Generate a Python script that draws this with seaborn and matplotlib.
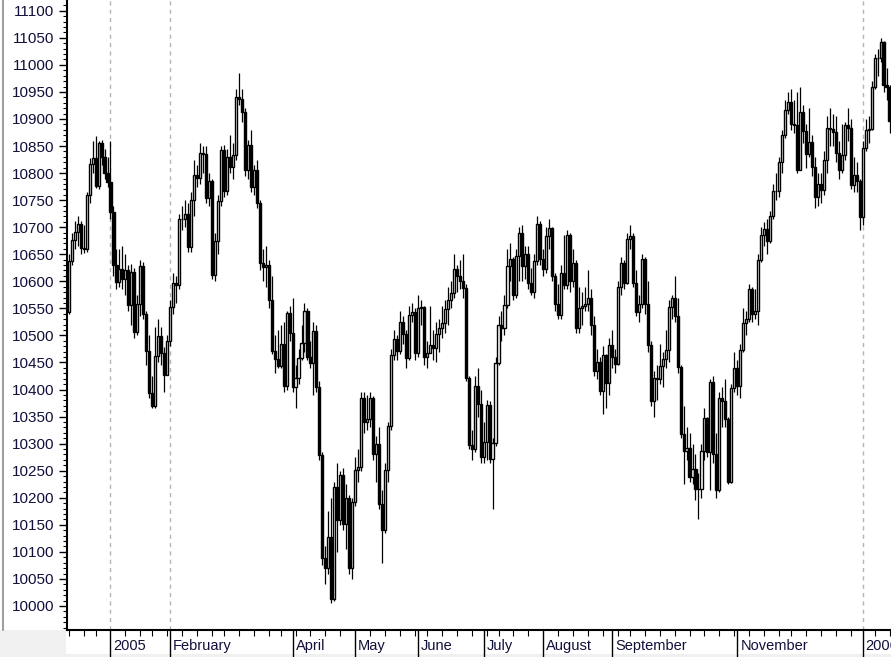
import numpy as np
import pandas as pd
import matplotlib
matplotlib.use("Agg")
import matplotlib.pyplot as plt
import matplotlib.transforms as mtransforms
from matplotlib.patches import Rectangle
from matplotlib.lines import Line2D
import seaborn as sns

# ---------------- data (daily OHLC, Dec 13 2004 .. Jan 17 2006) ----------------
holidays = ["2004-12-24", "2005-01-17", "2005-02-21", "2005-03-25", "2005-05-30",
            "2005-07-04", "2005-09-05", "2005-11-24", "2005-12-26", "2006-01-02",
            "2006-01-16"]

opens = [
    10543, 10638, 10676, 10691, 10706, 10662, 10660, 10759, 10816, 10827, 10776, 10855, 10829, 10800,
    10783, 10729, 10631, 10598, 10623, 10604, 10621, 10556, 10618, 10506, 10558, 10629, 10540, 10471, 10393, 10369, 10462, 10499, 10467, 10427,
    10490, 10552, 10597, 10593, 10716, 10716, 10725, 10664, 10750, 10796, 10791, 10837, 10835, 10754, 10785, 10611, 10674, 10749, 10842,
    10766, 10830, 10812, 10833, 10941, 10937, 10913, 10806, 10852, 10774, 10805, 10745, 10633, 10626, 10630, 10565, 10471, 10456, 10443, 10485, 10406, 10541,
    10504, 10404, 10421, 10458, 10486, 10546, 10461, 10449, 10508, 10404, 10279, 10088, 10071, 10127, 10012, 10219, 10158, 10242, 10151, 10199, 10070,
    10193, 10252, 10257, 10385, 10340, 10345, 10384, 10281, 10300, 10189, 10140, 10252, 10332, 10464, 10493, 10472, 10524, 10503, 10458, 10538, 10543,
    10467, 10550, 10553, 10461, 10467, 10483, 10477, 10503, 10513, 10523, 10548, 10566, 10579, 10623, 10609, 10600, 10588, 10421, 10298, 10291, 10406, 10374,
    10275, 10303, 10372, 10271, 10302, 10449, 10520, 10514, 10557, 10629, 10641, 10575, 10647, 10689, 10628, 10651, 10596, 10580, 10637, 10706,
    10641, 10623, 10684, 10698, 10610, 10558, 10537, 10616, 10594, 10686, 10600, 10634, 10513, 10550, 10555, 10559, 10570, 10520, 10435, 10451, 10397, 10463, 10413,
    10482, 10460, 10447, 10589, 10634, 10596, 10679, 10683, 10597, 10544, 10559, 10642, 10558, 10482, 10378, 10422, 10420, 10444, 10456, 10473, 10553,
    10569, 10535, 10441, 10317, 10287, 10292, 10239, 10253, 10217, 10217, 10287, 10348, 10285, 10414, 10281, 10215, 10385, 10378, 10345, 10230, 10403,
    10440, 10407, 10473, 10523, 10531, 10586, 10540, 10546, 10640, 10686, 10697, 10675, 10720, 10766, 10766, 10820, 10871, 10916, 10932, 10891, 10888,
    10806, 10913, 10878, 10835, 10857, 10811, 10755, 10779, 10768, 10824, 10884, 10882, 10876, 10837, 10806, 10834, 10889, 10883, 10778, 10796, 10785,
    10718, 10847, 10880, 10882, 10959, 11012, 11012, 11043, 10962, 10960,
]

closes = [
    10638, 10676, 10691, 10706, 10662, 10660, 10759, 10816, 10827, 10776, 10855, 10829, 10800, 10783,
    10729, 10631, 10598, 10623, 10604, 10621, 10556, 10618, 10506, 10558, 10629, 10540, 10471, 10393, 10369, 10462, 10499, 10467, 10427, 10490,
    10552, 10597, 10593, 10716, 10716, 10725, 10664, 10750, 10796, 10791, 10837, 10835, 10754, 10785, 10611, 10674, 10749, 10842, 10766,
    10830, 10812, 10833, 10941, 10937, 10913, 10806, 10852, 10774, 10805, 10745, 10633, 10626, 10630, 10565, 10471, 10456, 10443, 10485, 10406, 10541, 10504,
    10404, 10421, 10458, 10486, 10546, 10461, 10449, 10508, 10404, 10279, 10088, 10071, 10127, 10012, 10219, 10158, 10242, 10151, 10199, 10070, 10193,
    10252, 10257, 10385, 10340, 10345, 10384, 10281, 10300, 10189, 10140, 10252, 10332, 10464, 10493, 10472, 10524, 10503, 10458, 10538, 10543, 10467,
    10550, 10553, 10461, 10467, 10483, 10477, 10503, 10513, 10523, 10548, 10566, 10579, 10623, 10609, 10600, 10588, 10421, 10298, 10291, 10406, 10374, 10275,
    10303, 10372, 10271, 10302, 10449, 10520, 10514, 10557, 10629, 10641, 10575, 10647, 10689, 10628, 10651, 10596, 10580, 10637, 10706, 10641,
    10623, 10684, 10698, 10610, 10558, 10537, 10616, 10594, 10686, 10600, 10634, 10513, 10550, 10555, 10559, 10570, 10520, 10435, 10451, 10397, 10463, 10413, 10482,
    10460, 10447, 10589, 10634, 10596, 10679, 10683, 10597, 10544, 10559, 10642, 10558, 10482, 10378, 10422, 10420, 10444, 10456, 10473, 10553, 10569,
    10535, 10441, 10317, 10287, 10292, 10239, 10253, 10217, 10217, 10287, 10348, 10285, 10414, 10281, 10215, 10385, 10378, 10345, 10230, 10403, 10440,
    10407, 10473, 10523, 10531, 10586, 10540, 10546, 10640, 10686, 10697, 10675, 10720, 10766, 10766, 10820, 10871, 10916, 10932, 10891, 10888, 10806,
    10913, 10878, 10835, 10857, 10811, 10755, 10779, 10768, 10824, 10884, 10882, 10876, 10837, 10806, 10834, 10889, 10883, 10778, 10796, 10785, 10718,
    10847, 10880, 10882, 10959, 11012, 11012, 11043, 10962, 10960, 10896,
]

highs = [
    10650, 10690, 10712, 10720, 10712, 10705, 10765, 10828, 10860, 10868, 10860, 10862, 10845, 10830,
    10860, 10740, 10660, 10660, 10665, 10650, 10630, 10632, 10625, 10575, 10640, 10635, 10545, 10500, 10425, 10515, 10530, 10515, 10478, 10500,
    10565, 10615, 10610, 10725, 10740, 10750, 10745, 10765, 10825, 10815, 10855, 10850, 10850, 10800, 10790, 10690, 10760, 10850, 10852,
    10845, 10870, 10855, 10955, 10985, 10955, 10920, 10862, 10880, 10815, 10825, 10750, 10660, 10665, 10640, 10610, 10500, 10510, 10520, 10525, 10545, 10555,
    10570, 10445, 10475, 10520, 10560, 10550, 10490, 10525, 10520, 10415, 10285, 10110, 10175, 10200, 10230, 10265, 10250, 10255, 10225, 10205, 10200,
    10275, 10290, 10395, 10395, 10390, 10395, 10388, 10315, 10330, 10215, 10265, 10340, 10475, 10510, 10500, 10545, 10535, 10510, 10555, 10560, 10550,
    10575, 10565, 10555, 10490, 10555, 10510, 10525, 10530, 10555, 10565, 10590, 10600, 10650, 10630, 10640, 10650, 10595, 10425, 10325, 10425, 10440, 10400,
    10340, 10380, 10378, 10310, 10460, 10535, 10545, 10575, 10660, 10670, 10645, 10660, 10700, 10705, 10665, 10665, 10625, 10650, 10720, 10712,
    10660, 10700, 10715, 10700, 10615, 10595, 10630, 10685, 10695, 10690, 10660, 10640, 10590, 10580, 10590, 10620, 10585, 10535, 10475, 10460, 10480, 10465, 10495,
    10510, 10475, 10600, 10645, 10640, 10690, 10705, 10690, 10620, 10575, 10650, 10645, 10600, 10490, 10435, 10445, 10485, 10470, 10510, 10565, 10575,
    10610, 10570, 10445, 10370, 10330, 10320, 10300, 10280, 10245, 10300, 10365, 10350, 10420, 10425, 10320, 10395, 10405, 10420, 10350, 10410, 10470,
    10455, 10485, 10550, 10545, 10595, 10590, 10585, 10650, 10700, 10710, 10715, 10730, 10780, 10800, 10830, 10880, 10935, 10950, 10955, 10935, 10950,
    10960, 10925, 10890, 10920, 10870, 10830, 10800, 10800, 10840, 10905, 10920, 10910, 10905, 10860, 10890, 10895, 10920, 10900, 10830, 10820, 10790,
    10860, 10900, 10905, 10970, 11020, 11030, 11050, 11045, 10995, 10962,
]

lows = [
    10540, 10630, 10660, 10665, 10650, 10652, 10655, 10745, 10800, 10772, 10770, 10815, 10790, 10775,
    10715, 10610, 10585, 10590, 10585, 10575, 10545, 10520, 10495, 10500, 10535, 10530, 10445, 10385, 10365, 10365, 10450, 10445, 10395, 10427,
    10480, 10540, 10560, 10585, 10695, 10700, 10655, 10655, 10720, 10775, 10780, 10800, 10745, 10740, 10605, 10600, 10650, 10740, 10755,
    10760, 10800, 10790, 10825, 10925, 10895, 10795, 10790, 10765, 10760, 10735, 10620, 10600, 10590, 10550, 10465, 10430, 10440, 10440, 10395, 10400, 10490,
    10395, 10365, 10410, 10455, 10470, 10455, 10440, 10390, 10395, 10270, 10075, 10040, 10060, 10005, 10010, 10100, 10150, 10140, 10105, 10060, 10050,
    10185, 10230, 10250, 10320, 10325, 10330, 10270, 10230, 10180, 10080, 10135, 10230, 10325, 10455, 10455, 10465, 10485, 10440, 10455, 10525, 10455,
    10460, 10520, 10445, 10440, 10470, 10455, 10450, 10470, 10495, 10505, 10520, 10550, 10570, 10580, 10585, 10570, 10415, 10290, 10270, 10285, 10350, 10265,
    10265, 10270, 10265, 10180, 10295, 10445, 10490, 10500, 10550, 10600, 10565, 10570, 10600, 10600, 10605, 10585, 10575, 10570, 10630, 10630,
    10610, 10615, 10660, 10600, 10545, 10530, 10530, 10585, 10585, 10580, 10590, 10505, 10505, 10520, 10545, 10545, 10500, 10425, 10420, 10390, 10355, 10365, 10390,
    10440, 10430, 10445, 10575, 10585, 10595, 10660, 10590, 10535, 10525, 10550, 10540, 10470, 10370, 10350, 10380, 10410, 10405, 10440, 10450, 10530,
    10525, 10430, 10310, 10225, 10270, 10230, 10225, 10195, 10160, 10200, 10270, 10275, 10215, 10265, 10200, 10210, 10330, 10330, 10225, 10228, 10395,
    10390, 10385, 10470, 10500, 10525, 10525, 10530, 10520, 10635, 10665, 10650, 10670, 10715, 10750, 10755, 10800, 10865, 10910, 10880, 10875, 10800,
    10805, 10855, 10810, 10830, 10795, 10735, 10740, 10745, 10760, 10800, 10850, 10850, 10820, 10790, 10800, 10825, 10860, 10770, 10765, 10765, 10695,
    10705, 10840, 10855, 10880, 10955, 10980, 11005, 10950, 10935, 10875,
]

label_months = {"2005-01": "2005", "2005-02": "February", "2005-04": "April",
                "2005-05": "May", "2005-06": "June", "2005-07": "July",
                "2005-08": "August", "2005-09": "September", "2005-11": "November",
                "2006-01": "2006"}
dashed_months = ["2005-01", "2005-02", "2006-01"]

# ---------------- trading calendar ----------------
dates = pd.bdate_range("2004-12-13", "2006-01-17")
dates = dates[~dates.isin(pd.to_datetime(holidays))]
n = min(len(dates), len(closes))
dates = dates[:n]
df = pd.DataFrame({"date": dates, "open": opens[:n], "high": highs[:n],
                   "low": lows[:n], "close": closes[:n]})
df["pos"] = np.arange(n)
df["up"] = df["close"] >= df["open"]

# ---------------- figure ----------------
sns.set_theme(style="white")
plt.rcParams["font.family"] = ["Liberation Sans", "DejaVu Sans"]
W, H = 891, 657
fig = plt.figure(figsize=(W / 100, H / 100), dpi=100)
fig.patch.set_facecolor("white")

# window chrome: grey bottom-left and bottom strip, left border line
fig.add_artist(Rectangle((0, 0), 66 / W, 27 / H, transform=fig.transFigure,
                         facecolor="#f0f0f0", edgecolor="none", zorder=0))
fig.add_artist(Rectangle((0, 0), 1, 3 / H, transform=fig.transFigure,
                         facecolor="#f0f0f0", edgecolor="none", zorder=0))
fig.add_artist(Line2D([2.5 / W, 2.5 / W], [27 / H, 1], transform=fig.transFigure,
                      color="#a0a0a0", lw=1.5, zorder=1))

ax = fig.add_axes([67 / W, 27 / H, (W - 67) / W, 630 / H])
ax.set_facecolor("white")

# candles: wicks then bodies
sns.despine(ax=ax, top=True, right=True)
ax.vlines(df["pos"], df["low"], df["high"], color="black", lw=0.9, zorder=2)
body_bottom = np.minimum(df["open"], df["close"])
body_height = np.abs(df["close"] - df["open"])
face = np.where(df["up"], "white", "black")
ax.bar(df["pos"], body_height, bottom=body_bottom, width=0.7, color=face,
       edgecolor="black", linewidth=1.0, zorder=3)

# axes limits
ax.set_ylim(9955.6, 11119.9)
ax.set_xlim(-0.57, 275.5)

# y ticks
ax.set_yticks(np.arange(10000, 11101, 50))
ax.set_yticks(np.arange(9960, 11120, 10), minor=True)
ax.tick_params(axis="y", which="major", direction="out", length=6, width=1,
               pad=3, labelsize=11, labelcolor="#10103a", color="black", left=True)
ax.tick_params(axis="y", which="minor", direction="out", length=3, width=0.8,
               color="black", left=True)

# x ticks: month starts (labelled) and weekly minor ticks
ym = df["date"].dt.strftime("%Y-%m")
first_of_month = df.groupby(ym)["pos"].min()
major_pos = [int(first_of_month[k]) for k in label_months if k in first_of_month.index]
major_lab = [label_months[k] for k in label_months if k in first_of_month.index]
wk = df["date"].dt.isocalendar()
week_key = wk["year"].astype(str) + "-" + wk["week"].astype(str)
minor_pos = df.groupby(week_key)["pos"].min().sort_values().tolist()
minor_pos = [p for p in minor_pos if p not in major_pos]

ax.set_xticks(major_pos)
ax.set_xticklabels(major_lab)
ax.set_xticks(minor_pos, minor=True)
ax.tick_params(axis="x", which="major", direction="out", length=20, width=1,
               pad=-13.5, labelsize=10.5, labelcolor="#10103a", color="black", bottom=True)
ax.tick_params(axis="x", which="minor", direction="out", length=4, width=0.8,
               color="black", bottom=True)
offset = mtransforms.ScaledTranslation(3 / 100, 0, fig.dpi_scale_trans)
for lab in ax.get_xticklabels():
    lab.set_horizontalalignment("left")
    lab.set_transform(lab.get_transform() + offset)

for sp in ("left", "bottom"):
    ax.spines[sp].set_color("black")
    ax.spines[sp].set_linewidth(1.5)

# dashed separators
for k in dashed_months:
    if k in first_of_month.index:
        ax.axvline(first_of_month[k], color="#b4b4b4", lw=1, ls=(0, (3, 3)), zorder=1)

ax.grid(False)
fig.savefig("out.png", dpi=100)
